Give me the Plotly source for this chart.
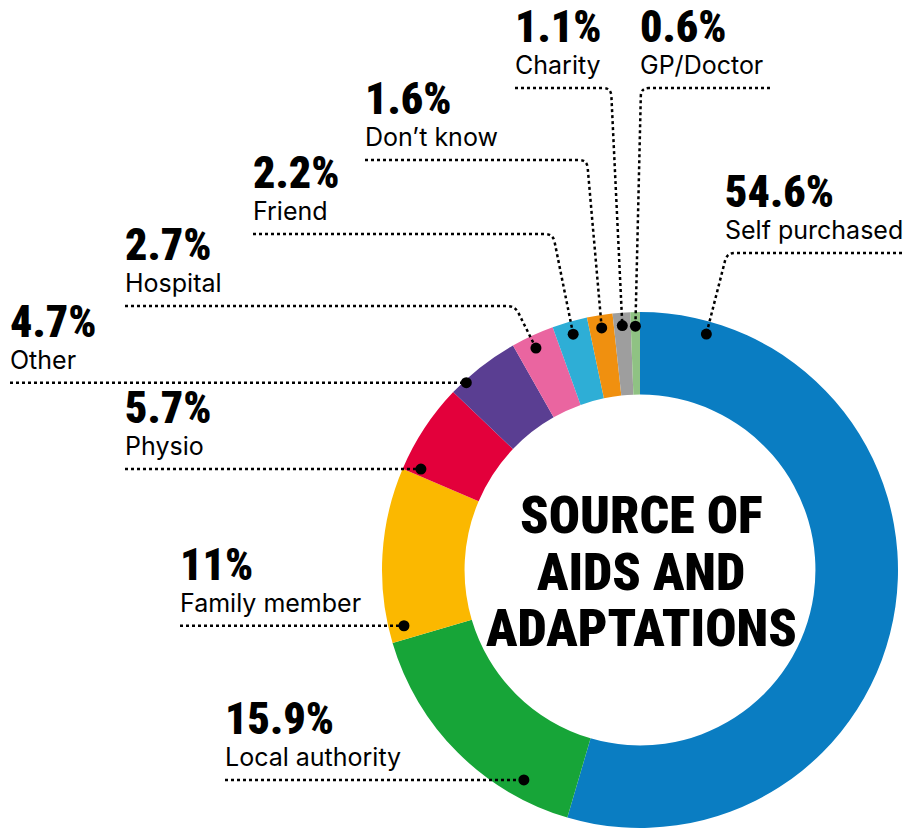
import math
import plotly.graph_objects as go

# ---------------- data ----------------
categories = ["Self purchased", "Local authority", "Family member", "Physio", "Other",
              "Hospital", "Friend", "Don\u2019t know", "Charity", "GP/Doctor"]
values = [54.6, 15.9, 11, 5.7, 4.7, 2.7, 2.2, 1.6, 1.1, 0.6]
value_labels = ["54.6%", "15.9%", "11%", "5.7%", "4.7%", "2.7%", "2.2%", "1.6%", "1.1%", "0.6%"]
title_lines = ["SOURCE OF", "AIDS AND", "ADAPTATIONS"]

# ---------------- styles / layout ----------------
colors = ["#0a7dc2", "#17a538", "#fbb800", "#e3003b", "#5a3e92",
          "#ea65a0", "#2eaed6", "#f0900f", "#9e9e9e", "#8fc283"]
W, H = 906, 830
CX, CY, R = 640, 570, 258
HOLE = 0.68
NUM_FONT = "Roboto Condensed, Open Sans Condensed, Noto Sans Condensed, Roboto, sans-serif"
NUM_STYLE = "font-stretch:condensed;font-weight:900"
LBL_FONT = "Inter, Roboto, sans-serif"

# per-label leader layout: text_x, line_y (None -> at dot), knee_x (None -> straight), far_x
leader = [
    (725, 253, 727, 902),
    (225, None, None, 225),
    (180, None, None, 180),
    (125, None, None, 125),
    (10, None, None, 10),
    (125, 306, 515, 125),
    (253, 234, 553, 253),
    (365, 160, 587, 365),
    (515, 88, 611, 515),
    (640, 88, 641, 770),
]
dot_frac = [0.08, 0.22, 0.08, 0.08, 0.21, 0.45, 0.5, 0.5, 0.5, 0.5]
dot_r = [0.95, 0.93, 0.94, 0.935, 0.99, 0.95, 0.95, 0.95, 0.95, 0.945]

fig = go.Figure()
fig.add_trace(go.Pie(
    labels=categories, values=values, sort=False, direction="clockwise", rotation=0,
    hole=HOLE, marker=dict(colors=colors, line=dict(width=0)),
    textinfo="none", hoverinfo="label+percent", showlegend=False,
    domain=dict(x=[(CX - R) / W, (CX + R) / W], y=[(H - CY - R) / H, (H - CY + R) / H]),
))
# invisible pixel axes for leaders
fig.add_trace(go.Scatter(x=[0, W], y=[0, H], mode="markers", marker=dict(opacity=0),
                         hoverinfo="skip", showlegend=False))

total = sum(values)
shapes = []
annotations = []
cum = 0.0
for i, v in enumerate(values):
    a0 = cum / total * 360
    a1 = (cum + v) / total * 360
    cum += v
    ang = math.radians(a0 + dot_frac[i] * (a1 - a0))
    rd = dot_r[i] * R
    dx = CX + rd * math.sin(ang)
    dy = CY - rd * math.cos(ang)
    tx, ly, kx, fx = leader[i]
    if ly is None:
        ly = dy
        path = f"M {fx},{ly} L {dx},{dy}"
    else:
        rc = 8
        sx = 1 if fx > kx else -1
        p1 = (kx + sx * rc, ly)
        vx, vy = dx - kx, dy - ly
        L = math.hypot(vx, vy)
        p2 = (kx + vx / L * rc, ly + vy / L * rc)
        path = f"M {fx},{ly} L {p1[0]},{p1[1]} Q {kx},{ly} {p2[0]},{p2[1]} L {dx},{dy}"
    shapes.append(dict(type="path", path=path, xref="x", yref="y", layer="above",
                       line=dict(color="black", width=2.5, dash="dot")))
    shapes.append(dict(type="circle", xref="x", yref="y", layer="above",
                       x0=dx - 5.5, x1=dx + 5.5, y0=dy - 5.5, y1=dy + 5.5,
                       fillcolor="black", line=dict(width=0)))
    annotations.append(dict(x=tx - 1, y=ly - 34, xref="x", yref="y", xanchor="left", yanchor="bottom",
                            text=f"<span style='{NUM_STYLE}'>{value_labels[i]}</span>",
                            showarrow=False, borderpad=0,
                            font=dict(family=NUM_FONT, size=44, color="black", weight="bold")))
    annotations.append(dict(x=tx - 1, y=ly - 7, xref="x", yref="y", xanchor="left", yanchor="bottom",
                            text=categories[i], showarrow=False, borderpad=0,
                            font=dict(family=LBL_FONT, size=25, color="black")))

for j, t in enumerate(title_lines):
    annotations.append(dict(x=CX + 1, y=CY + 2 + (j - 1) * 56.5, xref="x", yref="y",
                            xanchor="center", yanchor="middle",
                            text=f"<span style='{NUM_STYLE}'>{t}</span>",
                            showarrow=False, borderpad=0,
                            font=dict(family=NUM_FONT, size=52, color="black", weight="bold")))

fig.update_layout(
    width=W, height=H, margin=dict(l=0, r=0, t=0, b=0),
    paper_bgcolor="white", plot_bgcolor="rgba(0,0,0,0)",
    xaxis=dict(range=[0, W], visible=False, fixedrange=True, domain=[0, 1]),
    yaxis=dict(range=[H, 0], visible=False, fixedrange=True, domain=[0, 1]),
    shapes=shapes, annotations=annotations, showlegend=False,
)
fig.write_html("out.html", config={"displayModeBar": False},
               post_script="document.body.style.margin='0';document.body.style.padding='0';")
